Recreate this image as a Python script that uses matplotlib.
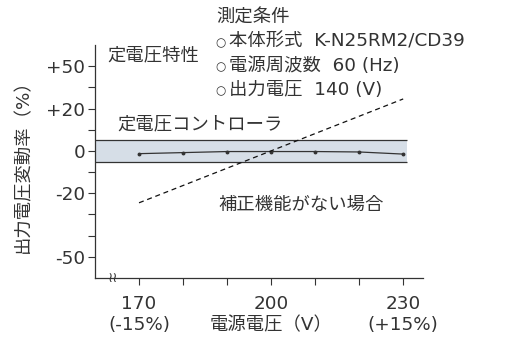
import matplotlib
matplotlib.use('Agg')
import matplotlib.pyplot as plt
import numpy as np

plt.rcParams['font.family'] = ['DejaVu Sans', 'Noto Sans CJK JP']

# data
voltage = [170, 180, 190, 200, 210, 220, 230]
controller = [-1.3, -0.8, -0.3, -0.3, -0.3, -0.5, -1.5]
no_corr_v = [170, 230]
no_corr = [-24.5, 26.8]
band_lo, band_hi = -5, 5
band_x = [160, 230.8]
yticks = [-50, -20, 0, 20, 50]
yticklabels = ['-50', '-20', '0', '+20', '+50']
yminor = [-40, -30, -10, 10, 35]
xticks = [170, 200, 230]
xticklabels = ['170\n(-15%)', '200\n電源電圧（V）', '230\n(+15%)']
xminor = [180, 190, 210, 220]
conditions = ['本体形式  K-N25RM2/CD39', '電源周波数  60 (Hz)', '出力電圧  140 (V)']

# non-linear y axis (as drawn in the original)
yvals = [-60, -50, -20, 0, 20, 50, 65]
ypos = [-6, -5, -2, 0, 2, 4, 5]
fwd = lambda v: np.interp(v, yvals, ypos)
inv = lambda p: np.interp(p, ypos, yvals)

txt = '#333333'
fs = 13.2
W, H = 520, 337
fig = plt.figure(figsize=(W / 100, H / 100), dpi=100)
ax = fig.add_axes([95 / W, 1 - 278 / H, 328 / W, 233 / H])
ax.set_yscale('function', functions=(fwd, inv))

ax.fill_between(band_x, band_lo, band_hi, color='#d6dee7', lw=0)
ax.hlines([band_lo, band_hi], band_x[0], band_x[1], color='#333333', lw=0.9)
ax.plot(voltage, controller, color='#333333', lw=0.9, marker='o', ms=1.8)
ax.plot(no_corr_v, no_corr, color='#111111', lw=0.9, ls=(0, (4, 3)))

ax.set_xlim(160, 234.5)
ax.set_ylim(-60, 65)
ax.set_yticks(yticks)
ax.set_yticklabels(yticklabels)
ax.set_yticks(yminor, minor=True)
ax.set_xticks(xticks)
ax.set_xticklabels(xticklabels, linespacing=1.25)
ax.set_xticks(xminor, minor=True)
ax.tick_params(which='both', direction='out', length=5, width=0.8, color=txt, labelcolor=txt, labelsize=fs)
ax.tick_params(axis='x', pad=7)
ax.tick_params(axis='y', pad=2)
for s in ['top', 'right']:
    ax.spines[s].set_visible(False)
for s in ['left', 'bottom']:
    ax.spines[s].set_color(txt)
    ax.spines[s].set_linewidth(0.9)
ax.set_ylabel('出力電圧変動率（%）', fontsize=fs, color=txt, labelpad=10)

# axis break mark
ax.text(164, -60, '≀≀', fontsize=10, color=txt, ha='center', va='center', clip_on=False)

def ftext(x, y, s, size=fs):
    fig.text(x / W, 1 - y / H, s, fontsize=size, color=txt, va='center', ha='left')

ftext(216, 18, '測定条件')
ftext(107, 55, '定電圧特性')
for i, c in enumerate(conditions):
    ftext(215, 43 + 24 * i, '○', size=8.5)
    ftext(229, 42 + 24 * i, c)
ftext(117, 124, '定電圧コントローラ')
ftext(218, 205, '補正機能がない場合')

fig.savefig('out.png', dpi=100)
